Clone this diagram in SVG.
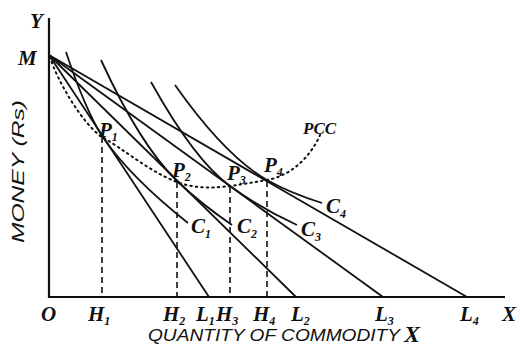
<svg xmlns="http://www.w3.org/2000/svg" width="520" height="352" viewBox="0 0 520 352">
<style>
.ax{stroke:#111;stroke-width:2.2;fill:none}
.bl{stroke:#111;stroke-width:1.8;fill:none}
.ic{stroke:#111;stroke-width:1.8;fill:none}
.dash{stroke:#111;stroke-width:1.6;stroke-dasharray:6 4;fill:none}
.pcc{stroke:#111;stroke-width:2;stroke-dasharray:1.5 4;stroke-linecap:round;fill:none}
.lb{font-family:"Liberation Serif",serif;font-style:italic;font-weight:bold;font-size:21px;fill:#111}
.sb{font-size:12px}
.sans{font-family:"Liberation Sans",sans-serif;font-style:italic;font-size:16px;fill:#111}
</style>
<rect width="520" height="352" fill="#fff"/>
<g id="axes">
<line class="ax" x1="49" y1="18" x2="49" y2="298"/>
<line class="ax" x1="48" y1="297" x2="505" y2="297"/>
</g>
<g id="connectors">
<line class="bl" x1="49" y1="55" x2="209" y2="297"/>
<line class="bl" x1="49" y1="55" x2="296" y2="297"/>
<line class="bl" x1="49" y1="55" x2="383" y2="297"/>
<line class="bl" x1="49" y1="55" x2="467" y2="297"/>
<path class="ic" d="M66,52 Q85,109 102,136 Q130,177 188,223"/>
<path class="ic" d="M101,60 Q140,145 177,181 Q200,203 232,225"/>
<path class="ic" d="M151,82 Q195,161 230,186 Q260,208 297,225"/>
<path class="ic" d="M175,85 Q225,156 267,180 Q290,193 322,203"/>
<line class="dash" x1="102" y1="137" x2="102" y2="297"/>
<line class="dash" x1="177" y1="182" x2="177" y2="297"/>
<line class="dash" x1="230" y1="187" x2="230" y2="297"/>
<line class="dash" x1="267" y1="181" x2="267" y2="297"/>
<path class="pcc" d="M50,57 C56,78 82,124 102,137 C125,150 150,172 177,182 C195,189 215,188 230,186 C245,184 255,182 267,180 C290,176 310,158 320,135"/>
</g>
<g id="labels">
<text class="lb" x="30" y="28">Y</text>
<text class="lb" x="18" y="65">M</text>
<text class="lb" x="41" y="321">O</text>
<text class="lb" x="88" y="321">H<tspan class="sb" dy="4">1</tspan></text>
<text class="lb" x="163" y="321">H<tspan class="sb" dy="4">2</tspan></text>
<text class="lb" x="196" y="321">L<tspan class="sb" dy="4">1</tspan></text>
<text class="lb" x="216" y="321">H<tspan class="sb" dy="4">3</tspan></text>
<text class="lb" x="253" y="321">H<tspan class="sb" dy="4">4</tspan></text>
<text class="lb" x="291" y="321">L<tspan class="sb" dy="4">2</tspan></text>
<text class="lb" x="375" y="321">L<tspan class="sb" dy="4">3</tspan></text>
<text class="lb" x="460" y="321">L<tspan class="sb" dy="4">4</tspan></text>
<text class="lb" x="502" y="321">X</text>
<text class="lb" x="99" y="137">P<tspan class="sb" dy="4">1</tspan></text>
<text class="lb" x="172" y="177">P<tspan class="sb" dy="4">2</tspan></text>
<text class="lb" x="227" y="180">P<tspan class="sb" dy="4">3</tspan></text>
<text class="lb" x="264" y="172">P<tspan class="sb" dy="4">4</tspan></text>
<text class="lb" x="191" y="233">C<tspan class="sb" dy="5">1</tspan></text>
<text class="lb" x="237" y="233">C<tspan class="sb" dy="5">2</tspan></text>
<text class="lb" x="301" y="236">C<tspan class="sb" dy="5">3</tspan></text>
<text class="lb" x="326" y="213">C<tspan class="sb" dy="5">4</tspan></text>
<text class="lb" x="303" y="134" style="font-size:17px">PCC</text>
<text class="sans" x="148" y="341" textLength="252" lengthAdjust="spacingAndGlyphs">QUANTITY OF COMMODITY</text>
<text class="lb" x="404" y="342" style="font-size:24px">X</text>
<text class="sans" transform="translate(24,243) rotate(-90)" textLength="143" lengthAdjust="spacingAndGlyphs">MONEY (Rs)</text>
</g>
</svg>
